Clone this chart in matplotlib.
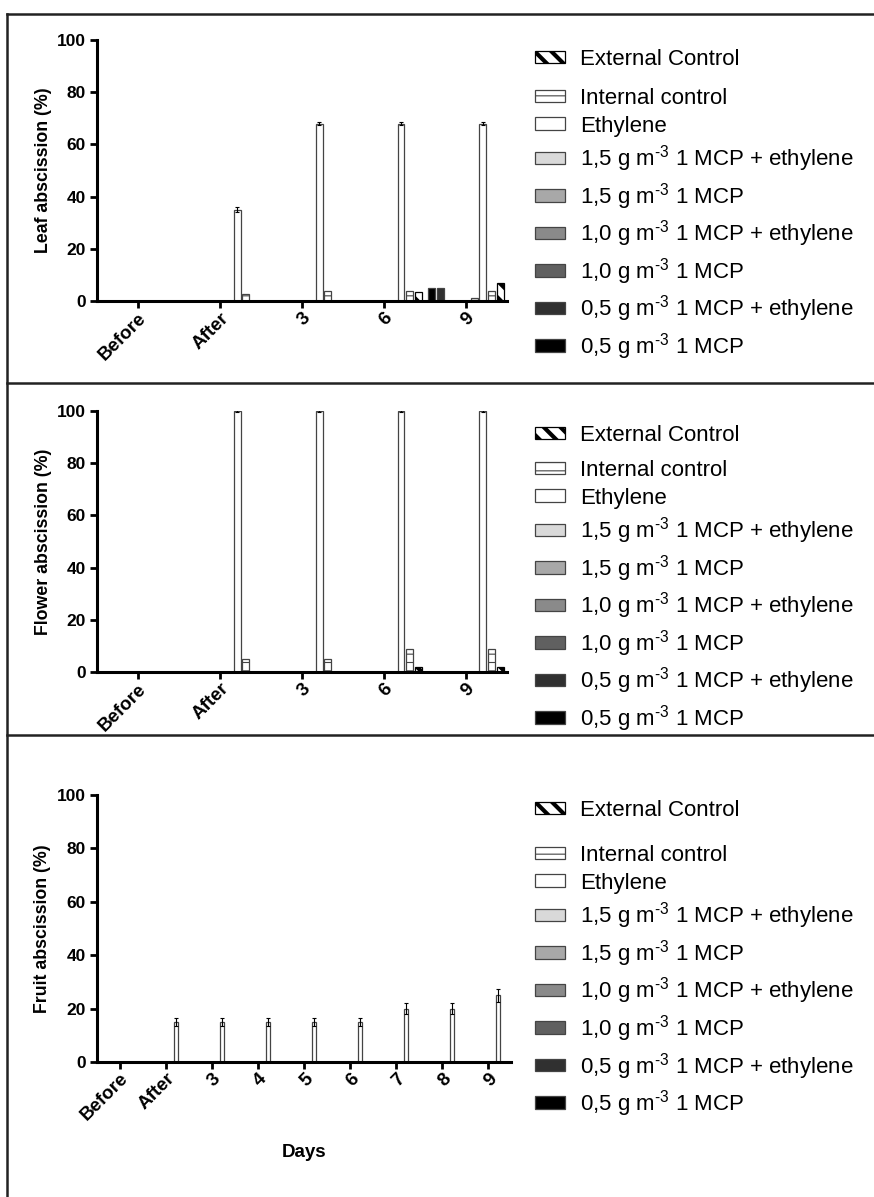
import numpy as np
import matplotlib
matplotlib.use('Agg')
from matplotlib import pyplot as plt
from matplotlib.lines import Line2D

plt.rcParams['font.family'] = ['Liberation Sans', 'DejaVu Sans']
plt.rcParams['mathtext.fontset'] = 'custom'
plt.rcParams['mathtext.rm'] = 'Liberation Sans'
plt.rcParams['mathtext.it'] = 'Liberation Sans'
plt.rcParams['hatch.linewidth'] = 0.8

# legend order (bars are drawn in the reverse order inside each group)
series = ['External Control', 'Internal control', 'Ethylene',
          r'1,5 g m$^{\text{-3}}$ 1 MCP + ethylene', r'1,5 g m$^{\text{-3}}$ 1 MCP',
          r'1,0 g m$^{\text{-3}}$ 1 MCP + ethylene', r'1,0 g m$^{\text{-3}}$ 1 MCP',
          r'0,5 g m$^{\text{-3}}$ 1 MCP + ethylene', r'0,5 g m$^{\text{-3}}$ 1 MCP']
colors = ['white', 'white', 'white', '#d9d9d9', '#a8a8a8', '#8a8a8a',
          '#606060', '#303030', '#000000']
hatches = ['\\\\', '--', None, None, None, None, None, None, None]

days_short = ['Before', 'After', '3', '6', '9']
days_long = ['Before', 'After', '3', '4', '5', '6', '7', '8', '9']

# leaf abscission (%)
leaf = {
    series[0]: [0, 0, 0, 3.5, 7],
    series[1]: [0, 2.7, 4, 3.8, 3.8],
    series[2]: [0, 35, 68, 68, 68],
    series[3]: [0, 0, 0, 0, 1],
    series[7]: [0, 0, 0, 0, 5],
    series[8]: [0, 0, 0, 0, 5],
}
leaf_err = {series[2]: [0, 1, 0.5, 0.5, 0.5]}

# flower abscission (%)
flower = {
    series[0]: [0, 0, 0, 2, 2],
    series[1]: [0, 5, 5, 9, 9],
    series[2]: [0, 100, 100, 100, 100],
}
flower_err = {series[2]: [0, 0.5, 0.5, 0.5, 0.5]}

# fruit abscission (%)
fruit = {
    series[2]: [0, 15, 15, 15, 15, 15, 20, 20, 25],
}
fruit_err = {series[2]: [0, 1.5, 1.5, 1.5, 1.5, 1.5, 2, 2, 2.5]}

fig = plt.figure(figsize=(8.74, 11.97), dpi=100)

panels = [
    (leaf, leaf_err, days_short, 'Leaf abscission (%)', [0.111, 0.7485, 0.469, 0.218]),
    (flower, flower_err, days_short, 'Flower abscission (%)', [0.111, 0.4386, 0.469, 0.218]),
    (fruit, fruit_err, days_long, 'Fruit abscission (%)', [0.111, 0.1128, 0.474, 0.223]),
]
# pixel tops of the two legend blocks (first entry / the rest)
legend_tops = [(49, 88), (425, 460), (800, 845)]

slot = 0.104
bw = 0.085
leg_kw = dict(loc='upper left', frameon=False, fontsize=16,
              handlelength=1.35, handleheight=0.5, handletextpad=0.68,
              labelspacing=0.3, borderaxespad=0, borderpad=0)
for p, (data, errs, cats, ylab, rect) in enumerate(panels):
    ax = fig.add_axes(rect)
    x = np.arange(len(cats))
    handles = []
    for i, name in enumerate(series):
        k = len(series) - 1 - i
        vals = data.get(name, [0] * len(cats))
        err = errs.get(name)
        kw = {}
        if err is not None:
            kw = dict(yerr=err, capsize=1.5,
                      error_kw=dict(elinewidth=0.8, capthick=0.8, ecolor='black'))
        b = ax.bar(x + (k - 4) * slot, vals, bw, color=colors[i], hatch=hatches[i],
                   edgecolor='#444444', linewidth=0.9, zorder=2, **kw)
        if i == 0:
            for r in b.patches:
                r.set_edgecolor('black')
                if hasattr(r, 'set_hatch_linewidth'):
                    r.set_hatch_linewidth(3)
        handles.append(b)
    ax.set_xlim(-0.5, len(cats) - 0.5)
    ax.set_ylim(0, 100)
    ax.set_yticks([0, 20, 40, 60, 80, 100])
    ax.set_xticks(x)
    ax.set_xticklabels(cats, rotation=45, ha='right', rotation_mode='anchor')
    for s in ['top', 'right']:
        ax.spines[s].set_visible(False)
    for s in ['left', 'bottom']:
        ax.spines[s].set_linewidth(2.2)
        ax.spines[s].set_zorder(5)
    ax.tick_params(width=2, length=5, pad=3)
    ax.tick_params(axis='x', labelsize=13.5, pad=1)
    ax.tick_params(axis='y', labelsize=12.5)
    for lab in ax.get_xticklabels() + ax.get_yticklabels():
        lab.set_fontweight('bold')
    ax.set_ylabel(ylab, fontsize=12.8, fontweight='bold')
    ax.yaxis.set_label_coords(-0.11, 0.5)

    top1, top2 = legend_tops[p]
    leg1 = ax.legend(handles[:1], series[:1],
                     bbox_to_anchor=(535 / 874, 1 - top1 / 1197),
                     bbox_transform=fig.transFigure, **leg_kw)
    h0 = leg1.legend_handles[0]
    if hasattr(h0, 'set_hatch_linewidth'):
        h0.set_hatch_linewidth(3)
    h0.set_edgecolor('black')
    ax.add_artist(leg1)
    ax.legend(handles[1:], series[1:],
              bbox_to_anchor=(535 / 874, 1 - top2 / 1197),
              bbox_transform=fig.transFigure, **leg_kw)
    if p == 2:
        ax.set_xlabel('Days', fontsize=13.5, fontweight='bold', labelpad=14)

# panel frame lines
lk = dict(color='#222222', linewidth=1.8, transform=fig.transFigure)
fig.add_artist(Line2D([7 / 874, 1], [1 - 14 / 1197] * 2, **lk))
fig.add_artist(Line2D([7 / 874] * 2, [0, 1 - 14 / 1197], **lk))
fig.add_artist(Line2D([7 / 874, 1], [1 - 383 / 1197] * 2, **lk))
fig.add_artist(Line2D([7 / 874, 1], [1 - 735 / 1197] * 2, **lk))

fig.savefig('out.png', dpi=100)
